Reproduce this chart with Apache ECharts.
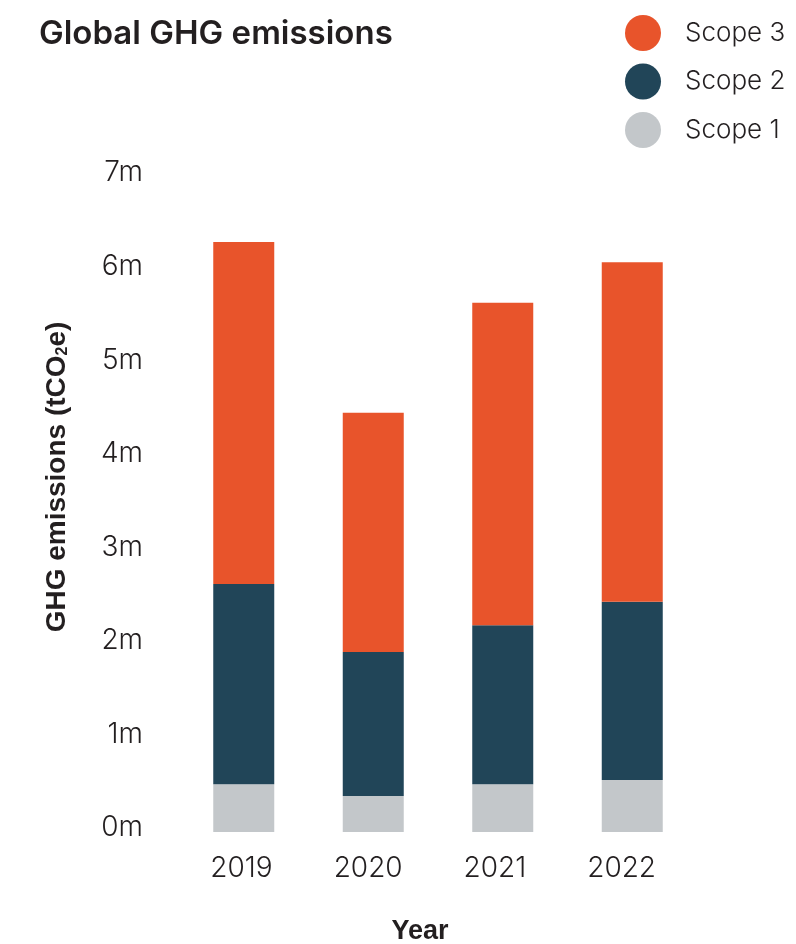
<!DOCTYPE html>
<html>
<head>
<meta charset="utf-8">
<script src="https://cdn.jsdelivr.net/npm/echarts@6/dist/echarts.min.js"></script>
<style>
  html, body { margin: 0; padding: 0; background: #ffffff; }
  #chart { width: 796px; height: 944px; }
</style>
</head>
<body>
<div id="chart"></div>
<script>
// Emissions by scope, in millions of tCO2e
const years = ['2019', '2020', '2021', '2022'];
const scope1 = [0.51, 0.385, 0.51, 0.555];
const scope2 = [2.14, 1.54, 1.70, 1.905];
const scope3 = [3.655, 2.555, 3.445, 3.63];
const yTicks = [0, 1, 2, 3, 4, 5, 6, 7];

const FONT = 'Inter, "Noto Sans", sans-serif';
const BOLD_FONT = '"Liberation Sans", Arial, sans-serif';
const INK = '#231f20';
const COLORS = { s1: '#c3c7ca', s2: '#214558', s3: '#e8542b' };

const chart = echarts.init(document.getElementById('chart'));

chart.setOption({
  backgroundColor: '#ffffff',
  animation: false,
  title: {
    text: 'Global GHG emissions',
    left: 34,
    top: 13,
    textStyle: { fontFamily: FONT, fontSize: 33, fontWeight: 600, color: INK }
  },
  legend: {
    orient: 'vertical',
    left: 620,
    top: 10,
    icon: 'circle',
    itemWidth: 36,
    itemHeight: 36,
    itemGap: 12.5,
    data: ['Scope 3', 'Scope 2', 'Scope 1'],
    textStyle: {
      fontFamily: FONT, fontSize: 26, fontWeight: 300, color: INK,
      padding: [0, 0, 0, 19]
    }
  },
  grid: [
    // plot area holding the stacked bars
    { left: 179, width: 518, top: 177, bottom: 112, containLabel: false, outerBoundsMode: 'none' },
    // band used only to place the year labels
    { left: 178, width: 507, top: 177, bottom: 112, containLabel: false, outerBoundsMode: 'none' }
  ],
  xAxis: [
    {
      type: 'category',
      gridIndex: 0,
      data: years,
      axisLine: { show: false },
      axisTick: { show: false },
      axisLabel: { show: false }
    },
    {
      type: 'category',
      gridIndex: 1,
      data: years,
      axisLine: { show: false },
      axisTick: { show: false },
      axisLabel: { fontFamily: FONT, fontSize: 28, fontWeight: 300, color: INK, margin: 23 }
    }
  ],
  yAxis: [
    {
      type: 'value',
      gridIndex: 0,
      min: yTicks[0],
      max: yTicks[yTicks.length - 1],
      interval: 1,
      splitLine: { show: false },
      axisLine: { show: false },
      axisTick: { show: false },
      axisLabel: {
        fontFamily: FONT, fontSize: 28, fontWeight: 300, color: INK, margin: 36,
        verticalAlign: 'bottom',
        lineHeight: 8,
        formatter: v => v + 'm'
      }
    },
    { type: 'value', gridIndex: 1, show: false, min: 0, max: 7 }
  ],
  graphic: [
    {
      type: 'text',
      x: 54,
      y: 477,
      rotation: Math.PI / 2,
      style: {
        text: '{a|GHG emissions (tCO}{s|2}{a|e)}',
        align: 'center',
        verticalAlign: 'middle',
        rich: {
          a: { fontFamily: BOLD_FONT, fontSize: 28, fontWeight: 700, fill: INK, lineHeight: 34, verticalAlign: 'bottom' },
          s: { fontFamily: BOLD_FONT, fontSize: 16, fontWeight: 700, fill: INK, lineHeight: 34, verticalAlign: 'bottom' }
        }
      }
    },
    {
      type: 'text',
      x: 420,
      y: 932,
      style: {
        text: 'Year',
        align: 'center',
        verticalAlign: 'middle',
        fontFamily: BOLD_FONT, fontSize: 27, fontWeight: 700, fill: INK
      }
    }
  ],
  series: [
    { name: 'Scope 1', type: 'bar', stack: 'ghg', data: scope1, barWidth: 61, itemStyle: { color: COLORS.s1 } },
    { name: 'Scope 2', type: 'bar', stack: 'ghg', data: scope2, barWidth: 61, itemStyle: { color: COLORS.s2 } },
    { name: 'Scope 3', type: 'bar', stack: 'ghg', data: scope3, barWidth: 61, itemStyle: { color: COLORS.s3 } }
  ]
});
</script>
</body>
</html>
